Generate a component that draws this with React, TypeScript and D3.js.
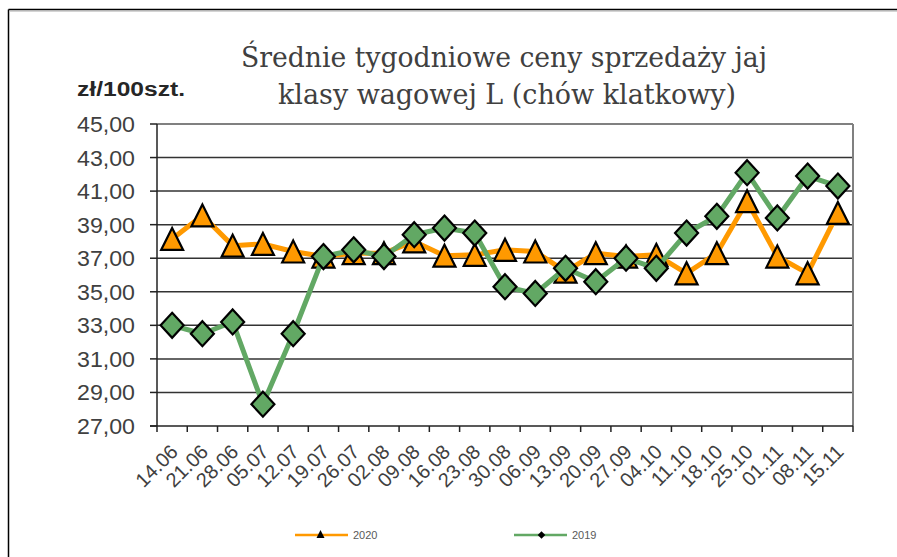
import React from "react";
import * as d3 from "d3";

const categories = ["14.06","21.06","28.06","05.07","12.07","19.07","26.07","02.08","09.08","16.08","23.08","30.08","06.09","13.09","20.09","27.09","04.10","11.10","18.10","25.10","01.11","08.11","15.11"];
const series2020 = [38.15, 39.55, 37.75, 37.85, 37.4, 37.1, 37.3, 37.3, 38.0, 37.15, 37.2, 37.5, 37.4, 36.2, 37.3, 37.1, 37.2, 36.1, 37.3, 40.4, 37.1, 36.1, 39.7];
const series2019 = [33.0, 32.5, 33.2, 28.3, 32.5, 37.1, 37.5, 37.1, 38.4, 38.8, 38.5, 35.3, 34.9, 36.4, 35.6, 37.0, 36.4, 38.5, 39.5, 42.1, 39.4, 41.9, 41.3];
const yTicks = [27, 29, 31, 33, 35, 37, 39, 41, 43, 45];
const titleLines = ["Średnie tygodniowe ceny sprzedaży jaj", "klasy wagowej L (chów klatkowy)"];
const unitLabel = "zł/100szt.";
const legendNames = ["2020", "2019"];

const W = 897, H = 557;
const plot = { left: 157, right: 853, top: 124, bottom: 426 };
const ORANGE = "#FF9900";
const GREEN = "#62A864";

export default function App() {
  const x = d3.scaleBand<string>().domain(categories).range([plot.left, plot.right]).paddingInner(0).paddingOuter(0);
  const y = d3.scaleLinear().domain([27, 45]).range([plot.bottom, plot.top]);
  const cx = (c: string) => (x(c) as number) + x.bandwidth() / 2;
  const line = d3.line<number>().x((_, i) => cx(categories[i])).y((v) => y(v));
  const fmt = (v: number) => v.toFixed(2).replace(".", ",");
  const tri = (px: number, py: number, s = 11) => `M${px},${py - s}L${px + s},${py + s}L${px - s},${py + s}Z`;
  const dia = (px: number, py: number, w = 11.5, h = 12.5) => `M${px},${py - h}L${px + w},${py}L${px},${py + h}L${px - w},${py}Z`;
  const boundaries = [...categories.map((c) => x(c) as number), plot.right];

  return (
    <svg width={W} height={H} style={{ position: "absolute", left: 0, top: 0, background: "#fff" }} fontFamily="'Liberation Sans', Arial, sans-serif">
      <rect x={0} y={0} width={W} height={H} fill="#fff" />
      {/* outer frame */}
      <line x1={8.5} y1={9.5} x2={W} y2={9.5} stroke="#000" strokeWidth={1.5} />
      <line x1={8.5} y1={9.5} x2={8.5} y2={H} stroke="#000" strokeWidth={1.5} />
      <line x1={10} y1={11} x2={W} y2={11} stroke="#aaa" strokeWidth={1} />

      {/* title */}
      <text x={504} y={67} textAnchor="middle" fontFamily="'DejaVu Serif', serif" fontSize={27} fill="#404040" textLength={526} lengthAdjust="spacingAndGlyphs">{titleLines[0]}</text>
      <text x={507} y={104} textAnchor="middle" fontFamily="'DejaVu Serif', serif" fontSize={27} fill="#404040" textLength={458} lengthAdjust="spacingAndGlyphs">{titleLines[1]}</text>

      {/* unit */}
      <text x={77} y={96} fontSize={20} fontWeight="bold" fill="#262626" textLength={108} lengthAdjust="spacingAndGlyphs">{unitLabel}</text>

      {/* gridlines */}
      {yTicks.map((t) => (
        <g key={t}>
          {t !== 27 && t !== 45 && (
            <line x1={plot.left} x2={plot.right} y1={y(t)} y2={y(t)} stroke="#333" strokeWidth={1.5} />
          )}
          <line x1={plot.left - 7} x2={plot.left} y1={y(t)} y2={y(t)} stroke="#222" strokeWidth={1.5} />
          <text x={135} y={y(t) + 8} textAnchor="end" fontSize={22} fill="#404040" textLength={58} lengthAdjust="spacingAndGlyphs">{fmt(t)}</text>
        </g>
      ))}
      {/* plot frame */}
      <line x1={plot.left} x2={plot.right} y1={plot.top} y2={plot.top} stroke="#808080" strokeWidth={2} />
      <line x1={plot.right} x2={plot.right} y1={plot.top} y2={plot.bottom} stroke="#808080" strokeWidth={2} />
      <line x1={plot.left} x2={plot.left} y1={plot.top} y2={plot.bottom} stroke="#222" strokeWidth={1.5} />
      <line x1={plot.left - 7} x2={plot.right} y1={plot.bottom} y2={plot.bottom} stroke="#222" strokeWidth={1.5} />
      {boundaries.map((bx, i) => (
        <line key={i} x1={bx} x2={bx} y1={plot.bottom} y2={plot.bottom + 6} stroke="#222" strokeWidth={1.5} />
      ))}

      {/* x labels */}
      {categories.map((c) => {
        const ax = cx(c) + 7, ay = 453;
        return (
          <text key={c} x={ax} y={ay} textAnchor="end" fontSize={20} fill="#404040" transform={`rotate(-45 ${ax} ${ay})`}>{c}</text>
        );
      })}

      {/* series 2020 */}
      <path d={line(series2020) || ""} fill="none" stroke={ORANGE} strokeWidth={5} strokeLinejoin="round" />
      {series2020.map((v, i) => (
        <path key={i} d={tri(cx(categories[i]), y(v))} fill={ORANGE} stroke="#000" strokeWidth={2.2} strokeLinejoin="miter" />
      ))}

      {/* series 2019 */}
      <path d={line(series2019) || ""} fill="none" stroke={GREEN} strokeWidth={5} strokeLinejoin="round" />
      {series2019.map((v, i) => (
        <path key={i} d={dia(cx(categories[i]), y(v))} fill={GREEN} stroke="#000" strokeWidth={2.2} />
      ))}

      {/* legend */}
      <line x1={295} x2={348} y1={535} y2={535} stroke={ORANGE} strokeWidth={2.5} />
      <path d={tri(320.5, 534, 4)} fill="#000" />
      <text x={353} y={539} fontSize={11} fill="#595959">{legendNames[0]}</text>
      <line x1={514} x2={567} y1={535} y2={535} stroke={GREEN} strokeWidth={2.5} />
      <path d={dia(541.5, 535, 3.8, 3.8)} fill="#000" />
      <text x={572} y={539} fontSize={11} fill="#595959">{legendNames[1]}</text>
    </svg>
  );
}
